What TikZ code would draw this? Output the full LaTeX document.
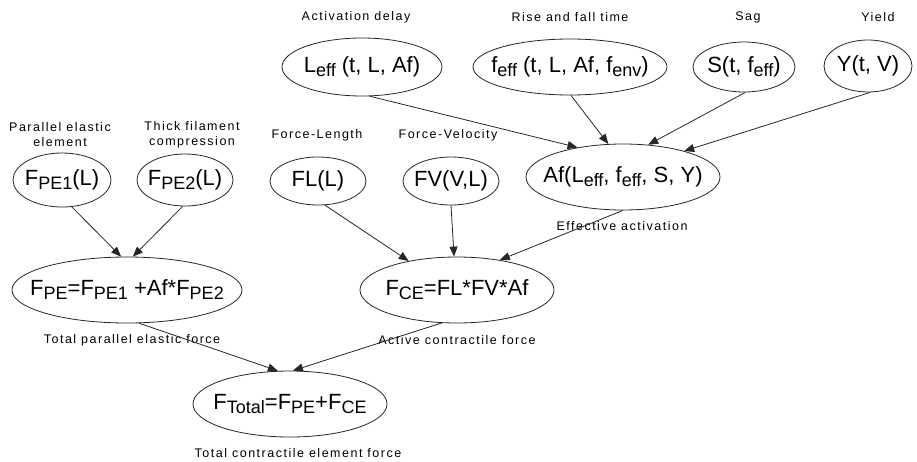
\documentclass[tikz,border=0pt]{standalone}
\usepackage{fontspec}
\setmainfont{Liberation Sans}
\usetikzlibrary{shapes.geometric,arrows.meta}
\newcommand{\lsub}[1]{\raisebox{-4pt}{\fontsize{18}{18}\selectfont #1}}
\tikzset{
  ell/.style={draw=black!85, line width=0.8pt, ellipse, inner sep=0pt},
  etext/.style={font=\fontsize{22}{24}\selectfont, inner sep=0pt},
  captext/.style={font=\fontsize{12.5}{15}\selectfont\addfontfeature{LetterSpace=12}, inner sep=0pt, align=center},
  arr/.style={draw=black!85, line width=0.8pt, -{Triangle[length=10pt,width=8pt]}}
}
\newcommand{\ellnode}[6]{%
  \node[ell, minimum width=#4pt, minimum height=#5pt] (#1) at (#2pt,-#3pt) {};
  \node[etext] (#1t) at (#1) {#6};
}
\begin{document}
\begin{tikzpicture}
\useasboundingbox (0,0) rectangle (917pt,-461pt);
% ellipses
\ellnode{leff}{362}{67}{160}{58}{L\lsub{eff} (t, L, Af)}
\ellnode{feff}{570}{67}{194}{56}{f\lsub{eff} (t, L, Af, f\lsub{env})}
\ellnode{sag}{744}{67}{102}{50}{S(t, f\lsub{eff})}
\ellnode{yld}{868}{66}{88}{52}{Y(t, V)}
\ellnode{af}{623}{177}{194}{66}{Af(L\lsub{eff}, f\lsub{eff}, S, Y)}
\ellnode{fl}{318}{181}{96}{48}{FL(L)}
\ellnode{fv}{451}{181}{96}{48}{FV(V,L)}
\ellnode{fpea}{62}{180}{98}{54}{F\lsub{PE1}(L)}
\ellnode{fpeb}{185}{180}{96}{52}{F\lsub{PE2}(L)}
\ellnode{fpe}{127}{290}{230}{66}{F\lsub{PE}=F\lsub{PE1} +Af*F\lsub{PE2}}
\ellnode{fce}{457}{290}{194}{66}{F\lsub{CE}=FL*FV*Af}
\ellnode{ftot}{290}{404}{194}{66}{F\lsub{Total}=F\lsub{PE}+F\lsub{CE}}
% captions
\node[captext] (c1) at (356pt,-17pt) {Activation delay};
\node[captext] (c2) at (570pt,-17pt) {Rise and fall time};
\node[captext] (c3) at (748pt,-17pt) {Sag};
\node[captext] (c4) at (878pt,-17pt) {Yield};
\node[captext] (c5) at (60pt,-135pt) {Parallel elastic\\element};
\node[captext] (c6) at (192pt,-135pt) {Thick filament\\compression};
\node[captext] (c7) at (317pt,-135pt) {Force-Length};
\node[captext] (c8) at (448pt,-135pt) {Force-Velocity};
\node[captext] (c9) at (622pt,-226pt) {Effective activation};
\node[captext] (c10) at (132pt,-340pt) {Total parallel elastic force};
\node[captext] (c11) at (457pt,-340pt) {Active contractile force};
\node[captext] (c12) at (298pt,-453pt) {Total contractile element force};
% connectors
\draw[arr] (leff.-75) -- (af.147);
\draw[arr] (feff.-88) -- (af.114);
\draw[arr] (sag.-87) -- (af.52);
\draw[arr] (yld.-85) -- (af.23);
\draw[arr] (fl.-74) -- (fce.149);
\draw[arr] (fv.-90) -- (fce.95);
\draw[arr] (af.-90) -- (fce.35);
\draw[arr] (fpea.-70) -- (fpe.100);
\draw[arr] (fpeb.-95) -- (fpe.80);
\draw[arr] (fpe.-70) -- (ftot.110);
\draw[arr] (fce.-115) -- (ftot.85);
\end{tikzpicture}
\end{document}
